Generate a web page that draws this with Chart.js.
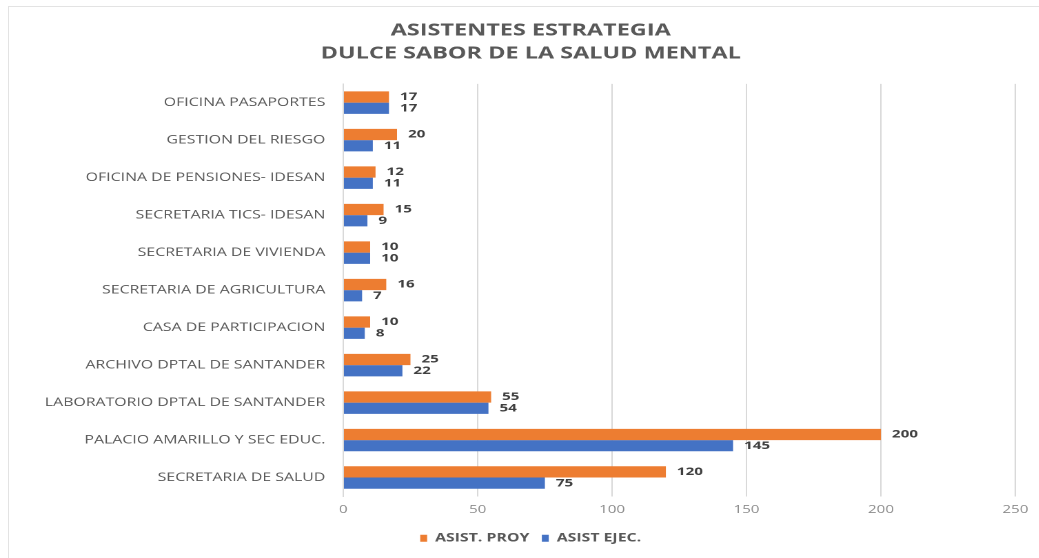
<!DOCTYPE html>
<html>
<head>
  <meta charset="utf-8">
  <title>Asistentes Estrategia</title>
  <script src="https://cdn.jsdelivr.net/npm/chart.js"></script>
  <style>
    html, body { margin: 0; padding: 0; background: #fff; overflow: hidden; }
    .frame { position: relative; width: 1039px; height: 558px; overflow: hidden; }
    .edge { position: absolute; left: 8px; top: 6px; width: 1100px; height: 600px; border: 1px solid #e3e3e3; }
    /* the source picture is stretched sideways, so draw narrow and stretch */
    .wrap { position: absolute; left: 0; top: 0; width: 753px; height: 556px; transform: scaleX(1.3785); transform-origin: 0 0; }
  </style>
</head>
<body>
  <div class="frame"><div class="edge"></div><div class="wrap"><canvas id="chart"></canvas></div></div>

  <script>
    const categories = [
      'OFICINA PASAPORTES',
      'GESTION DEL RIESGO',
      'OFICINA DE PENSIONES- IDESAN',
      'SECRETARIA TICS- IDESAN',
      'SECRETARIA DE VIVIENDA',
      'SECRETARIA DE AGRICULTURA',
      'CASA DE PARTICIPACION',
      'ARCHIVO DPTAL DE SANTANDER',
      'LABORATORIO DPTAL DE SANTANDER',
      'PALACIO AMARILLO Y SEC EDUC.',
      'SECRETARIA DE SALUD'
    ];
    const asistProy = [17, 20, 12, 15, 10, 16, 10, 25, 55, 200, 120];
    const asistEjec = [17, 11, 11, 9, 10, 7, 8, 22, 54, 145, 75];
    const xTicks = [0, 50, 100, 150, 200, 250];

    const FONT = "'Open Sans', sans-serif";

    // value labels at the end of each bar
    const barLabels = {
      id: 'barLabels',
      afterDatasetsDraw(chart) {
        const ctx = chart.ctx;
        ctx.save();
        ctx.font = `bold 11px ${FONT}`;
        ctx.fillStyle = '#404040';
        ctx.textAlign = 'left';
        ctx.textBaseline = 'middle';
        chart.data.datasets.forEach((ds, i) => {
          chart.getDatasetMeta(i).data.forEach((bar, j) => {
            ctx.fillText(ds.data[j], bar.x + 8, bar.y);
          });
        });
        ctx.restore();
      }
    };

    new Chart(document.getElementById('chart'), {
      type: 'bar',
      data: {
        labels: categories,
        datasets: [
          { label: 'ASIST. PROY', data: asistProy, backgroundColor: '#ED7D31', categoryPercentage: 0.6, barPercentage: 1 },
          { label: 'ASIST EJEC.', data: asistEjec, backgroundColor: '#4472C4', categoryPercentage: 0.6, barPercentage: 1 }
        ]
      },
      options: {
        indexAxis: 'y',
        responsive: true,
        maintainAspectRatio: false,
        animation: false,
        devicePixelRatio: 2,
        layout: { padding: { left: 32, right: 15, top: 4, bottom: 2 } },
        plugins: {
          title: {
            display: true,
            text: ['ASISTENTES ESTRATEGIA', 'DULCE SABOR DE LA SALUD MENTAL'],
            color: '#595959',
            font: { family: FONT, size: 17, weight: 'bold', lineHeight: 1.35 },
            padding: { top: 15, bottom: 19 }
          },
          legend: {
            position: 'bottom',
            labels: { color: '#595959', font: { family: FONT, size: 11.5, weight: 'bold' }, boxWidth: 5, boxHeight: 7, padding: 9 }
          },
          tooltip: { enabled: false }
        },
        scales: {
          x: {
            min: 0,
            max: 250,
            afterBuildTicks: axis => { axis.ticks = xTicks.map(v => ({ value: v })); },
            grid: { color: '#d9d9d9', drawTicks: false },
            border: { display: false },
            ticks: { color: '#8c8c8c', font: { family: FONT, size: 11 }, padding: 7 }
          },
          y: {
            grid: { display: false },
            border: { display: true, color: '#d9d9d9' },
            ticks: { color: '#595959', font: { family: FONT, size: 11.5 }, padding: 5 },
            afterFit: axis => { axis.width = 217; }
          }
        }
      },
      plugins: [barLabels]
    });
  </script>
</body>
</html>
